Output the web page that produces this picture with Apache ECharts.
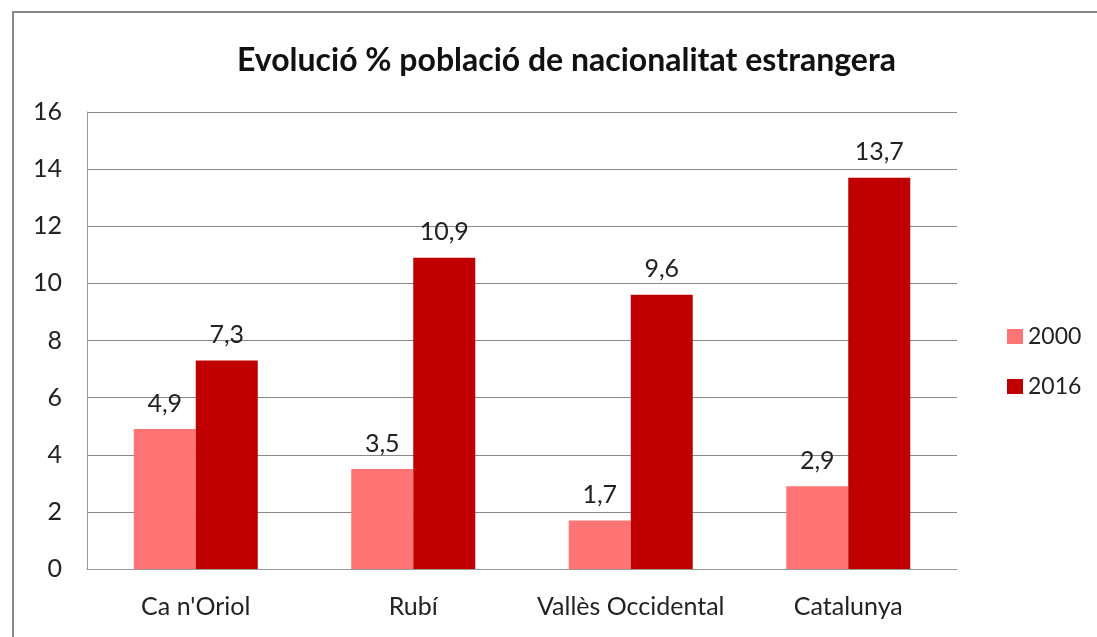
<!DOCTYPE html>
<html><head><meta charset="utf-8">
<script src="https://cdn.jsdelivr.net/npm/echarts@6/dist/echarts.min.js"></script>
<style>html,body{margin:0;padding:0;background:#fff}#c{width:1097px;height:637px}</style>
</head><body><div id="c"></div>
<script>
const categories = ["Ca n'Oriol", "Rubí", "Vallès Occidental", "Catalunya"];
const values2000 = [4.9, 3.5, 1.7, 2.9];
const values2016 = [7.3, 10.9, 9.6, 13.7];
const seriesNames = ["2000", "2016"];
const yTicks = { min: 0, max: 16, interval: 2 };

const FONT = "Lato, 'Open Sans', sans-serif";
const chart = echarts.init(document.getElementById('c'), null, {renderer: 'canvas'});
const fmt = v => String(v).replace('.', ',');
const label = {show: true, position: 'top', distance: 13, color: '#222', fontSize: 25, fontFamily: FONT, formatter: p => fmt(p.value)};
chart.setOption({
  animation: false,
  backgroundColor: '#fff',
  title: {text: 'Evolució % població de nacionalitat estrangera', left: 232, top: 40,
    textStyle: {fontSize: 32, fontWeight: 'bold', color: '#111', fontFamily: FONT}},
  graphic: [{type: 'rect', shape: {x: 13, y: 12, width: 1200, height: 700}, style: {fill: 'none', stroke: '#888', lineWidth: 2}, silent: true}],
  legend: {orient: 'vertical', left: 1002, top: 320, itemGap: 27, itemWidth: 16, itemHeight: 15, icon: 'rect',
    textStyle: {fontSize: 23, color: '#222', fontFamily: FONT}, data: seriesNames},
  grid: {left: 87, top: 112, right: 140, bottom: 68, containLabel: false},
  xAxis: {type: 'category', data: categories,
    axisLine: {lineStyle: {color: '#999'}}, axisTick: {show: false},
    axisLabel: {interval: 0, hideOverlap: false, fontSize: 25, color: '#222', margin: 25, fontFamily: FONT}},
  yAxis: {type: 'value', min: yTicks.min, max: yTicks.max, interval: yTicks.interval,
    axisLine: {show: true, lineStyle: {color: '#999'}}, axisTick: {show: false},
    splitLine: {lineStyle: {color: '#888', width: 1}},
    axisLabel: {fontSize: 25, color: '#222', margin: 25, fontFamily: FONT}},
  series: [
    {name: seriesNames[0], type: 'bar', data: values2000, itemStyle: {color: '#FF7575'}, barWidth: 62, barGap: '0%', label: label},
    {name: seriesNames[1], type: 'bar', data: values2016, itemStyle: {color: '#C00000'}, barWidth: 62, barGap: '0%', label: label}
  ]
});
</script></body></html>
